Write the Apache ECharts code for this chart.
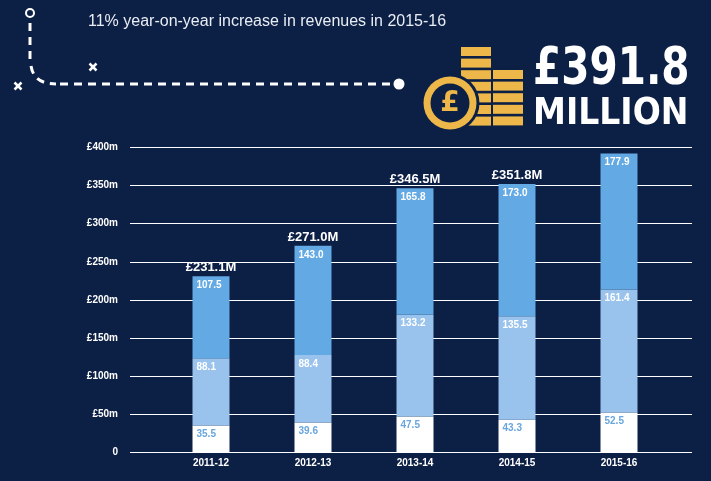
<!DOCTYPE html>
<html>
<head>
<meta charset="utf-8">
<style>
  html, body { margin: 0; padding: 0; background: #0c1f45; }
  #chart { width: 711px; height: 481px; }
</style>
<script src="https://cdn.jsdelivr.net/npm/echarts@6/dist/echarts.min.js"></script>
</head>
<body>
<div id="chart"></div>
<script>
// revenue split by year, £m
var years = ['2011-12', '2012-13', '2013-14', '2014-15', '2015-16'];
var baseValues = [35.5, 39.6, 47.5, 43.3, 52.5];
var midValues = [88.1, 88.4, 133.2, 135.5, 161.4];
var topValues = [107.5, 143.0, 165.8, 173.0, 177.9];
var totals = [231.1, 271.0, 346.5, 351.8, '-'];
var yTicks = [0, 50, 100, 150, 200, 250, 300, 350, 400];

var bg = '#0c1f45';
var gold = '#edb849';
var font = '"Liberation Sans", Arial, sans-serif';

var chart = echarts.init(document.getElementById('chart'));

function coinRows(x, y0, n) {
  var rows = [];
  for (var i = 0; i < n; i++) {
    rows.push({
      type: 'rect',
      shape: { x: x, y: y0 + i * 11.6, width: 30, height: 9 },
      style: { fill: gold }
    });
  }
  return rows;
}

var dash = { fill: 'none', stroke: '#fff', lineWidth: 3, lineDash: [8, 6] };
var deco = [
  { type: 'circle', shape: { cx: 30, cy: 13, r: 4 }, style: { fill: 'none', stroke: '#fff', lineWidth: 2 } },
  { type: 'line', shape: { x1: 30, y1: 23, x2: 30, y2: 62 }, style: dash },
  { type: 'bezierCurve', shape: { x1: 31, y1: 66, cpx1: 34, cpy1: 84, x2: 56, y2: 84 }, style: dash },
  { type: 'line', shape: { x1: 60, y1: 84, x2: 392, y2: 84 }, style: dash },
  { type: 'circle', shape: { cx: 399, cy: 84, r: 5.5 }, style: { fill: '#fff' } },
  { type: 'line', shape: { x1: 89.5, y1: 63.5, x2: 96.5, y2: 70.5 }, style: { stroke: '#fff', lineWidth: 2.5 } },
  { type: 'line', shape: { x1: 96.5, y1: 63.5, x2: 89.5, y2: 70.5 }, style: { stroke: '#fff', lineWidth: 2.5 } },
  { type: 'line', shape: { x1: 14.5, y1: 82.5, x2: 21.5, y2: 89.5 }, style: { stroke: '#fff', lineWidth: 2.5 } },
  { type: 'line', shape: { x1: 21.5, y1: 82.5, x2: 14.5, y2: 89.5 }, style: { stroke: '#fff', lineWidth: 2.5 } },
  {
    type: 'text', x: 88, y: 22,
    style: { text: '11% year-on-year increase in revenues in 2015-16', fill: '#e9edf4', font: '16px ' + font, verticalAlign: 'middle' }
  }
];
deco = deco.concat(coinRows(461, 47, 7), coinRows(493, 70, 5));
deco.push(
  { type: 'circle', shape: { cx: 450, cy: 103, r: 29.5 }, style: { fill: bg } },
  { type: 'circle', shape: { cx: 450, cy: 103, r: 26.5 }, style: { fill: gold } },
  { type: 'circle', shape: { cx: 450, cy: 103, r: 19.5 }, style: { fill: bg } },
  {
    type: 'text', x: 450, y: 104,
    style: { text: '£', fill: gold, font: 'bold 28px "DejaVu Sans", sans-serif', align: 'center', verticalAlign: 'middle' }
  },
  {
    type: 'text', x: 533, y: 70, scaleX: 0.78,
    style: { text: '£391.8', fill: '#fff', font: 'bold 52px "DejaVu Sans", sans-serif', verticalAlign: 'middle' }
  },
  {
    type: 'text', x: 533, y: 114, scaleX: 0.87,
    style: { text: 'MILLION', fill: '#fff', font: 'bold 38px "DejaVu Sans", sans-serif', verticalAlign: 'middle' }
  }
);

function segLabel(color) {
  return {
    show: true,
    position: 'insideTopLeft',
    distance: 4,
    color: color,
    fontFamily: font,
    fontSize: 10,
    fontWeight: 'bold',
    formatter: function (p) { return p.value.toFixed(1); }
  };
}

var option = {
  backgroundColor: bg,
  animation: false,
  graphic: deco,
  grid: [
    { left: 130, right: 19, top: 147.3, bottom: 28.3 },
    { left: 160, right: 41, top: 147.3, bottom: 28.3 }
  ],
  xAxis: [
    { type: 'category', gridIndex: 0, show: false, data: years },
    {
      type: 'category', gridIndex: 1, data: years,
      axisLine: { show: false }, axisTick: { show: false },
      axisLabel: { color: '#fff', fontFamily: font, fontSize: 10, fontWeight: 'bold', margin: 6 }
    }
  ],
  yAxis: [
    {
      type: 'value', gridIndex: 0, min: yTicks[0], max: yTicks[yTicks.length - 1], interval: 50,
      axisLine: { show: false }, axisTick: { show: false },
      splitLine: { lineStyle: { color: '#fff', width: 1 } },
      axisLabel: {
        color: '#fff', fontFamily: font, fontSize: 10, fontWeight: 'bold', margin: 12,
        formatter: function (v) { return v === 0 ? '0' : '£' + v + 'm'; }
      }
    },
    {
      type: 'value', gridIndex: 1, min: yTicks[0], max: yTicks[yTicks.length - 1], interval: 50,
      show: false
    }
  ],
  series: [
    {
      type: 'bar', xAxisIndex: 1, yAxisIndex: 1, stack: 'rev', barWidth: 37,
      data: baseValues, itemStyle: { color: '#ffffff' }, label: segLabel('#68a6dd')
    },
    {
      type: 'bar', xAxisIndex: 1, yAxisIndex: 1, stack: 'rev', barWidth: 37,
      data: midValues, itemStyle: { color: '#99c3ec' }, label: segLabel('#ffffff')
    },
    {
      type: 'bar', xAxisIndex: 1, yAxisIndex: 1, stack: 'rev', barWidth: 37,
      data: topValues, itemStyle: { color: '#63a9e3' }, label: segLabel('#ffffff')
    },
    {
      type: 'scatter', xAxisIndex: 1, yAxisIndex: 1, symbolSize: 0, data: totals,
      itemStyle: { color: '#fff', opacity: 1 },
      label: {
        show: true, position: 'top', distance: 2, opacity: 1, textBorderWidth: 0,
        color: '#fff', fontFamily: font, fontSize: 13, fontWeight: 'bold',
        formatter: function (p) { return '£' + p.value.toFixed(1) + 'M'; }
      }
    }
  ]
};

chart.setOption(option);
</script>
</body>
</html>
